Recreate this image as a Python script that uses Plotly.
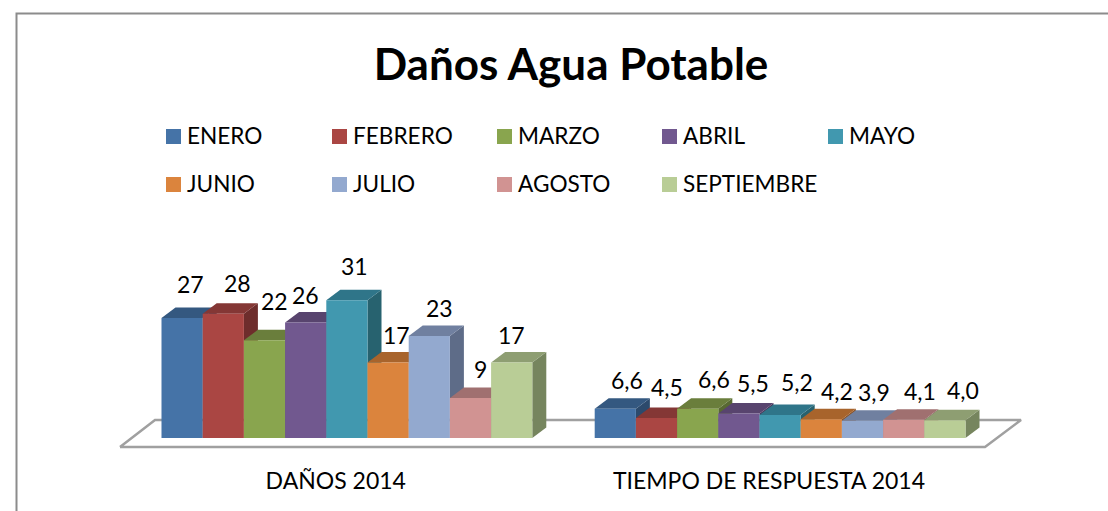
import plotly.graph_objects as go

# ---------- data ----------
MONTHS = ["ENERO", "FEBRERO", "MARZO", "ABRIL", "MAYO", "JUNIO", "JULIO", "AGOSTO", "SEPTIEMBRE"]
CATEGORIES = ["DAÑOS 2014", "TIEMPO DE RESPUESTA 2014"]
DANOS_2014 = [27, 28, 22, 26, 31, 17, 23, 9, 17]
TIEMPO_2014 = [6.6, 4.5, 6.6, 5.5, 5.2, 4.2, 3.9, 4.1, 4.0]
TITLE = "Daños Agua Potable"

# ---------- style ----------
FRONT = ["#4573A7", "#AA4643", "#89A54E", "#71588F", "#4198AF", "#DB843D", "#93A9CF", "#D19392", "#B9CD96"]
TOP = ["#345880", "#843735", "#6A7E3C", "#58446E", "#2F7589", "#A8642C", "#7080A0", "#A07070", "#8E9E72"]
SIDE = ["#2C4A6C", "#6E2D2C", "#586932", "#49385C", "#27626F", "#8C5325", "#5E6C88", "#866060", "#76855E"]
FONT = "Lato"
W, H = 1108, 511
AXIS_PX = 465          # pixel row of the x axis line
BASE_PX = 438          # pixel row of value 0
UNIT_Y = 4.44          # pixels per value unit
UNIT_X = 41.2          # pixels per bar slot
LEFT_PX = 161.5        # pixel column of x = 0
DX, DY = 14 / UNIT_X, 10.5 / UNIT_Y   # depth of the 3-D extrusion
GROUP_STARTS = [0, (594.7 - LEFT_PX) / UNIT_X]
VALUE_FMT = [lambda v: f"{v:d}", lambda v: f"{v:.1f}".replace(".", ",")]
# label shift from the centre of each bar top (px right, px up)
SHIFTS = [
    [(8, 34), (14, 31), (10, 39), (0, 28), (8, 34), (8, 28), (10, 28), (10, 29), (0, 28)],
    [(12, 29), (10, 31), (16, 30), (14, 31), (17, 33), (16, 28), (11, 29), (16, 29), (18, 30)],
]


def px_x(p):
    return (p - LEFT_PX) / UNIT_X


def px_y(p):
    return (BASE_PX - p) / UNIT_Y


fig = go.Figure()


def poly(xs, ys, color, name):
    fig.add_trace(go.Scatter(x=xs + xs[:1], y=ys + ys[:1], mode="lines", fill="toself",
                             fillcolor=color, line=dict(width=0, color=color),
                             hoverinfo="skip", showlegend=False, name=name))


# floor
fig.add_trace(go.Scatter(
    x=[px_x(p) for p in (120, 155, 1021, 985, 120)],
    y=[px_y(p) for p in (447, 420, 420, 447, 447)],
    mode="lines", line=dict(color="#A0A0A0", width=2.5), hoverinfo="skip", showlegend=False))

annotations = []
for g, values in enumerate([DANOS_2014, TIEMPO_2014]):
    start = GROUP_STARTS[g]
    for i, v in enumerate(values):
        x0, x1 = start + i, start + i + 1
        poly([x1, x1 + DX, x1 + DX, x1], [0, DY, v + DY, v], SIDE[i], MONTHS[i])
        poly([x0, x1, x1 + DX, x0 + DX], [v, v, v + DY, v + DY], TOP[i], MONTHS[i])
        poly([x0, x1, x1, x0], [0, 0, v, v], FRONT[i], MONTHS[i])
        sx, sy = SHIFTS[g][i]
        annotations.append(dict(x=x0 + 0.5, y=v, xref="x", yref="y", text=VALUE_FMT[g](v),
                                showarrow=False, xshift=sx, yshift=sy, xanchor="center", yanchor="middle",
                                font=dict(family=FONT, size=23, color="#000000")))

# legend, drawn as markers and text in two rows
LEG_COLS = [173.5, 339.5, 504.5, 669.5, 835.5]
LEG_ROWS = [136.5, 184.5]
for i, m in enumerate(MONTHS):
    col, row = LEG_COLS[i % 5], LEG_ROWS[i // 5]
    fig.add_trace(go.Scatter(x=[px_x(col)], y=[px_y(row)], mode="markers", name=m, showlegend=False,
                             marker=dict(symbol="square", size=15, color=FRONT[i], line=dict(width=0)),
                             hoverinfo="name"))
    annotations.append(dict(x=px_x(col + 11.5), y=px_y(row - 1), xref="x", yref="y", text=m, showarrow=False,
                            xanchor="left", yanchor="middle",
                            font=dict(family=FONT, size=22.6, color="#000000")))

fig.update_layout(
    width=W, height=H, autosize=False, showlegend=False,
    margin=dict(l=0, r=0, t=0, b=H - AXIS_PX, pad=0),
    paper_bgcolor="#FFFFFF", plot_bgcolor="#FFFFFF",
    title=dict(text=f"<b>{TITLE}</b>", x=571 / W, xanchor="center", y=1 - 65 / H, yanchor="middle",
               yref="container", font=dict(family=FONT, size=44, color="#000000")),
    annotations=annotations,
    shapes=[dict(type="rect", xref="paper", yref="paper", x0=16.5 / W, x1=1.05,
                 y0=-0.2, y1=1 - 13.5 / AXIS_PX, line=dict(color="#8C8C8C", width=2), layer="below")],
    xaxis=dict(range=[px_x(0), px_x(W)], showgrid=False, zeroline=False, showline=False, ticks="",
               tickvals=[GROUP_STARTS[0] + 4.5 - 0.27, GROUP_STARTS[1] + 4.5 - 0.27],
               ticktext=CATEGORIES, tickfont=dict(family=FONT, size=23, color="#000000"), ticklabelstandoff=0),
    yaxis=dict(range=[px_y(AXIS_PX), px_y(0)], visible=False),
)
fig.write_html("out.html", post_script="document.body.style.margin='0';", config={"displayModeBar": False})
